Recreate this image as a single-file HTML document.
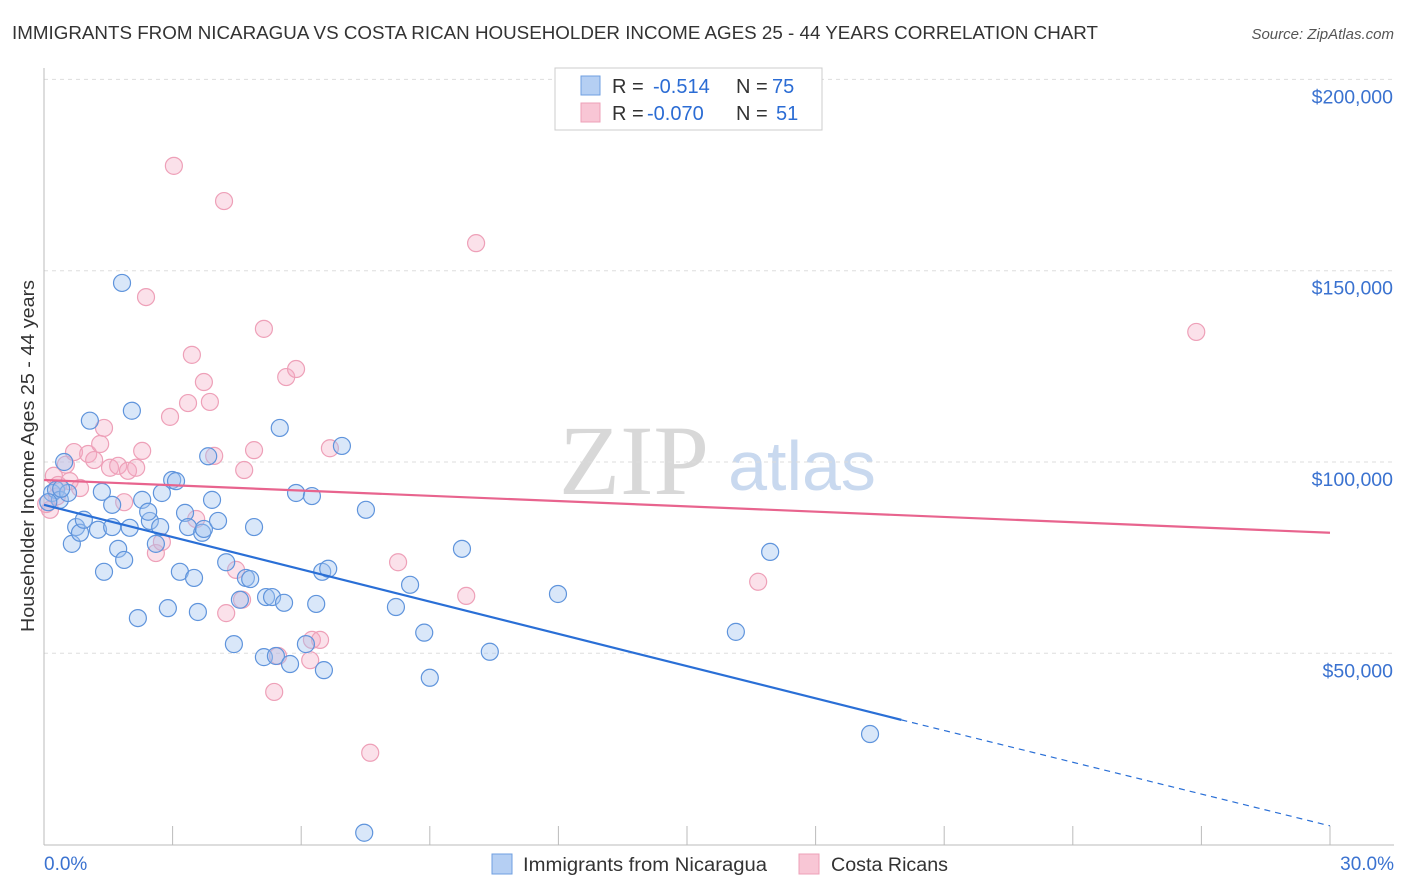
<!DOCTYPE html>
<html><head><meta charset="utf-8"><style>
body{margin:0;background:#fff;font-family:"Liberation Sans",sans-serif}
svg{display:block}
</style></head><body>
<svg id="chart" width="1406" height="892" xmlns="http://www.w3.org/2000/svg">
<text x="12" y="39" font-size="18.5" fill="#333" textLength="1086" lengthAdjust="spacingAndGlyphs">IMMIGRANTS FROM NICARAGUA VS COSTA RICAN HOUSEHOLDER INCOME AGES 25 - 44 YEARS CORRELATION CHART</text>
<text x="1394" y="39" font-size="15" fill="#555" font-style="italic" text-anchor="end">Source: ZipAtlas.com</text>
<text x="634" y="494" font-size="100" fill="#d8d8d8" font-family="Liberation Serif" text-anchor="middle">ZIP</text>
<text x="802" y="490" font-size="70" fill="#c9d9ef" text-anchor="middle">atlas</text>
<g id="grid"></g>
<g id="axes"></g>
<g id="marks"></g>
<text transform="translate(34,456) rotate(-90)" font-size="18" fill="#333" text-anchor="middle" textLength="352" lengthAdjust="spacingAndGlyphs">Householder Income Ages 25 - 44 years</text>
<g>
<rect x="555" y="68" width="267" height="62" fill="#fff" stroke="#ccc"/>
<rect x="581" y="76" width="19" height="19" fill="#b5cff3" stroke="#6f9fe0"/>
<rect x="581" y="103" width="19" height="19" fill="#f8c6d5" stroke="#eea0b8"/>
<text x="612" y="93" font-size="20" fill="#333">R =</text><text x="653" y="93" font-size="20" fill="#2b6cd4">-0.514</text>
<text x="736" y="93" font-size="20" fill="#333">N =</text><text x="772" y="93" font-size="20" fill="#2b6cd4">75</text>
<text x="612" y="120" font-size="20" fill="#333">R =</text><text x="647" y="120" font-size="20" fill="#2b6cd4">-0.070</text>
<text x="736" y="120" font-size="20" fill="#333">N =</text><text x="776" y="120" font-size="20" fill="#2b6cd4">51</text>
</g>
<g>
<rect x="492" y="854" width="20" height="20" fill="#b5cff3" stroke="#6f9fe0"/>
<text x="523" y="871" font-size="19" fill="#333" textLength="244" lengthAdjust="spacingAndGlyphs">Immigrants from Nicaragua</text></g>
<g>
<rect x="799" y="854" width="20" height="20" fill="#f8c6d5" stroke="#eea0b8"/>
<text x="831" y="871" font-size="19" fill="#333" textLength="117" lengthAdjust="spacingAndGlyphs">Costa Ricans</text></g>
</svg>
<script>
const yTicks=[50000,100000,150000,200000];
const yTickLabels=["$50,000","$100,000","$150,000","$200,000"];
const xTicks=[0,3,6,9,12,15,18,21,24,27,30];
const blueX=[0.19,0.28,0.37,0.47,0.56,0.65,0.75,0.84,0.93,1.07,1.26,1.35,1.4,1.59,1.59,1.73,1.87,1.82,2.0,2.05,2.19,2.29,2.47,2.43,2.61,2.71,2.75,2.89,2.99,3.08,3.17,3.29,3.36,3.5,3.59,3.69,3.73,3.83,3.92,4.06,4.25,4.43,4.57,4.71,4.81,4.9,5.13,5.18,5.32,5.41,5.5,5.6,5.74,5.88,6.11,6.25,6.35,6.49,6.53,6.63,6.95,7.47,7.51,8.21,8.54,8.87,9.0,9.75,10.4,11.99,16.14,16.94,19.27,0.1,0.4];
const blueY=[91.9,92.7,90.1,100,91.9,78.6,83,81.5,84.9,110.8,82.3,92.2,71.3,88.8,83,77.3,74.4,146.8,82.8,113.4,59.2,90.1,84.6,87,78.6,83,91.9,61.8,95.3,95,71.3,86.7,83,69.7,60.8,81.5,82.5,101.5,90.1,84.6,73.8,52.4,64,69.7,69.4,83,49,64.7,64.7,49.3,108.9,63.2,47.2,91.9,52.4,91.1,62.9,71.3,45.6,72.1,104.2,3.1,87.5,62.1,67.9,55.4,43.6,77.3,50.4,65.5,55.6,76.5,28.9,89.5,93];
const pinkX=[0.14,0.23,0.33,0.51,0.7,0.84,1.03,1.17,1.31,1.4,1.54,1.73,1.96,2.15,1.87,2.29,2.38,2.61,2.75,3.03,2.94,3.36,3.45,3.55,3.73,3.87,3.97,4.2,4.25,4.48,4.62,4.67,4.9,5.13,5.37,5.46,5.65,5.88,6.21,6.25,6.44,6.67,7.61,8.26,9.85,10.08,16.66,26.88,0.05,0.3,0.6];
const pinkY=[87.5,96.4,94,99.3,102.6,93.2,102.1,100.5,104.7,108.9,98.5,99,97.7,98.5,89.5,102.9,143.1,76.2,79.1,177.4,111.8,115.4,128,85.1,120.9,115.7,101.6,168.2,60.5,71.8,64,97.9,103.1,134.8,39.9,49.3,122.2,124.3,48.2,53.5,53.5,103.6,24,73.8,65,157.2,68.7,134,89,91,95];
const blueTrend=[[0,88.8],[20.0,32.6],[30,4.9]];
const pinkTrend=[[0,95.3],[30,81.5]];
const NS="http://www.w3.org/2000/svg";
const sx=v=>44+v/30*1286;
const sy=v=>844.6-v/50000*191.3;
function mk(tag,attrs,parent){const e=document.createElementNS(NS,tag);for(const k in attrs)e.setAttribute(k,attrs[k]);parent.appendChild(e);return e;}
const grid=document.getElementById('grid'),axes=document.getElementById('axes'),marks=document.getElementById('marks');
yTicks.forEach((t,i)=>{
 const l=mk('line',{x1:44,x2:1394,y1:sy(t),y2:sy(t),stroke:'#ddd','stroke-dasharray':'4,4'},grid);
 
 
 const tx=mk('text',{x:1393,y:sy(t)+24,'font-size':19.5,fill:'#3a72d0','text-anchor':'end'},axes);
 tx.textContent=yTickLabels[i];
 
 
});
const ax=mk('line',{x1:44,x2:1394,y1:845,y2:845,stroke:'#bbb'},axes);


const ay=mk('line',{x1:44,x2:44,y1:68,y2:845,stroke:'#bbb'},axes);


xTicks.forEach(t=>{
 const l=mk('line',{x1:sx(t),x2:sx(t),y1:826,y2:845,stroke:'#bbb'},axes);
 
 
});
[[0,"0.0%",'start',44],[30,"30.0%",'end',1394]].forEach(a=>{
 const tx=mk('text',{x:a[3],y:870,'font-size':19,fill:'#3a72d0','text-anchor':a[2]},axes);
 tx.textContent=a[1];
 
 
});
function dots(X,Y,fill,stroke,name){X.forEach((x,i)=>{
 const c=mk('circle',{cx:sx(x),cy:sy(Y[i]*1000),r:8.5,fill:fill,stroke:stroke,'stroke-width':1.2},marks);
 
 
});}
dots(pinkX,pinkY,'rgba(244,170,195,0.35)','#eea0b8','costa-rican-point');
dots(blueX,blueY,'rgba(160,195,240,0.4)','#5f94dc','nicaragua-point');
const bt=blueTrend.map(p=>[sx(p[0]),sy(p[1]*1000)]);
const b1=mk('line',{x1:bt[0][0],y1:bt[0][1],x2:bt[1][0],y2:bt[1][1],stroke:'#2a6fd6','stroke-width':2.2},marks);


const b2=mk('line',{x1:bt[1][0],y1:bt[1][1],x2:bt[2][0],y2:bt[2][1],stroke:'#2a6fd6','stroke-width':1.2,'stroke-dasharray':'6,5'},marks);


const pt=pinkTrend.map(p=>[sx(p[0]),sy(p[1]*1000)]);
const p1=mk('line',{x1:pt[0][0],y1:pt[0][1],x2:pt[1][0],y2:pt[1][1],stroke:'#e8648e','stroke-width':2.2},marks);


</script>
</body></html>
